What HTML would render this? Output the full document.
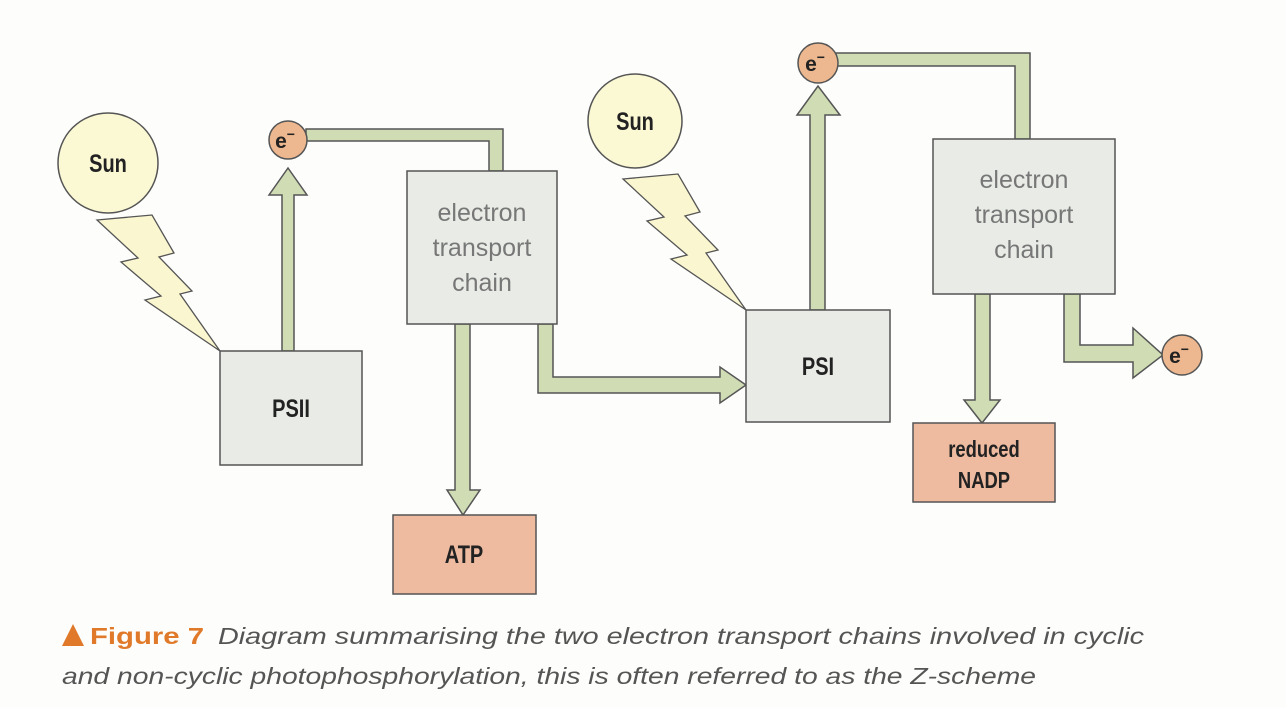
<!DOCTYPE html>
<html><head><meta charset="utf-8"><style>
html,body{margin:0;padding:0;background:#fdfdfb;}
svg{display:block}
</style></head><body>
<svg width="1286" height="708" viewBox="0 0 1286 708" xmlns="http://www.w3.org/2000/svg">
<rect width="1286" height="708" fill="#fdfdfb"/>
<g stroke="#555" stroke-width="1.5" fill="#cfdcb4">
<polygon points="282,351 282,195 269,195 288,168 307,195 294,195 294,351"/>
<polygon points="306,129 503,129 503,171 489,171 489,141 306,141"/>
<polygon points="455,324 455,490 447,490 463,515 480,490 470,490 470,324"/>
<polygon points="538,324 553,324 553,377 720,377 720,367 746,385 720,403 720,393 538,393"/>
<polygon points="810,310 810,115 797,115 818,86 840,115 825,115 825,310"/>
<polygon points="836,53 1030,53 1030,139 1015,139 1015,66 836,66"/>
<polygon points="975,294 975,400 964,400 982,423 1000,400 990,400 990,294"/>
<polygon points="1064,294 1080,294 1080,345 1133,345 1133,328 1163,355 1133,378 1133,362 1064,362"/>
</g>
<g fill="#faf6cf" stroke="#555" stroke-width="1.3">
<polygon points="97,220 152,215 174,253 159,257 192,291 180,294 220,351 145,300 161,296 121,262 138,258"/>
<polygon transform="translate(526,-41)" points="97,220 152,215 174,253 159,257 192,291 180,294 220,351 145,300 161,296 121,262 138,258"/>
</g>
<g fill="#fbf8d4" stroke="#555" stroke-width="1.5">
<circle cx="108" cy="163" r="50"/>
<circle cx="635" cy="121" r="47"/>
</g>
<g fill="#e9ece6" stroke="#555" stroke-width="1.5">
<rect x="220" y="351" width="142" height="114"/>
<rect x="407" y="171" width="150" height="153"/>
<rect x="746" y="310" width="144" height="112"/>
<rect x="933" y="139" width="182" height="155"/>
</g>
<g fill="#eebba0" stroke="#555" stroke-width="1.5">
<rect x="393" y="515" width="143" height="79"/>
<rect x="913" y="423" width="142" height="79"/>
</g>
<g fill="#edb88f" stroke="#555" stroke-width="1.5">
<circle cx="288" cy="140" r="19"/>
<circle cx="818" cy="63" r="20"/>
<circle cx="1182" cy="355" r="20"/>
</g>
<g font-family="Liberation Sans, sans-serif" font-weight="bold" fill="#222" text-anchor="middle">
<text x="108" y="172" font-size="25" transform="translate(108,0) scale(0.8,1) translate(-108,0)">Sun</text>
<text x="635" y="130" font-size="25" transform="translate(635,0) scale(0.8,1) translate(-635,0)">Sun</text>
<text x="291" y="417" font-size="25" transform="translate(291,0) scale(0.8,1) translate(-291,0)">PSII</text>
<text x="818" y="375" font-size="25" transform="translate(818,0) scale(0.8,1) translate(-818,0)">PSI</text>
<text x="464" y="563" font-size="25" transform="translate(464,0) scale(0.8,1) translate(-464,0)">ATP</text>
<text x="984" y="457" font-size="23" transform="translate(984,0) scale(0.8,1) translate(-984,0)">reduced</text>
<text x="984" y="488" font-size="23" transform="translate(984,0) scale(0.8,1) translate(-984,0)">NADP</text>
<text x="285" y="148" font-size="21">e<tspan font-size="14" dy="-9">−</tspan></text>
<text x="815" y="71" font-size="21">e<tspan font-size="14" dy="-9">−</tspan></text>
<text x="1179" y="363" font-size="21">e<tspan font-size="14" dy="-9">−</tspan></text>
</g>
<g font-family="Liberation Sans, sans-serif" fill="#777" font-size="25" text-anchor="middle">
<text x="482" y="221">electron</text>
<text x="482" y="256">transport</text>
<text x="482" y="291">chain</text>
<text x="1024" y="188">electron</text>
<text x="1024" y="223">transport</text>
<text x="1024" y="258">chain</text>
</g>
<polygon points="62,646 73,624 84,646" fill="#e07a2a"/>
<g font-family="Liberation Sans, sans-serif" font-size="23">
<text x="90" y="644" fill="#e07a2a" font-weight="bold" textLength="114" lengthAdjust="spacingAndGlyphs">Figure 7</text>
<text x="218" y="644" fill="#555" font-style="italic" textLength="926" lengthAdjust="spacingAndGlyphs">Diagram summarising the two electron transport chains involved in cyclic</text>
<text x="62" y="684" fill="#555" font-style="italic" textLength="974" lengthAdjust="spacingAndGlyphs">and non-cyclic photophosphorylation, this is often referred to as the Z-scheme</text>
</g>
</svg>
</body></html>
